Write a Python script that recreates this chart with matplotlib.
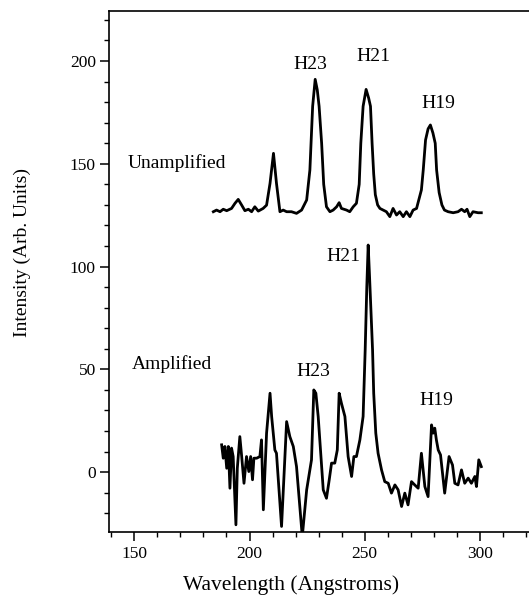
import matplotlib
matplotlib.use("Agg")
import matplotlib.pyplot as plt
from matplotlib.ticker import MultipleLocator

# spectra (wavelength in Angstroms, arb. intensity)
unamp_wl = [184.3, 185.7, 187.2, 188.6, 190.1, 192.2, 193.7, 195.1, 196.6, 198.0,
            199.5, 200.9, 202.3, 203.8, 205.9, 207.4, 208.9, 210.4, 211.7, 213.2,
            214.6, 216.1, 218.2, 220.4, 222.6, 224.8, 226.2, 227.4, 228.5, 229.4,
            230.2, 231.3, 232.2, 233.4, 234.9, 236.3, 237.8, 238.9, 239.9, 242.1,
            243.5, 245.0, 246.4, 247.6, 248.3, 249.3, 250.6, 251.7, 252.5, 253.2,
            253.9, 254.6, 255.6, 256.6, 258.0, 259.4, 260.9, 262.3, 263.8, 265.2,
            266.7, 268.1, 269.6, 271.0, 272.5, 274.6, 275.4, 276.4, 277.5, 278.5,
            279.6, 280.6, 281.2, 282.3, 283.5, 284.6, 286.2, 288.4, 290.5, 292.0,
            293.4, 294.4, 295.6, 297.0, 299.2, 300.6]
unamp_int = [126.7, 127.5, 126.7, 127.9, 127.2, 128.3, 130.8, 132.7, 129.9, 127.2,
             127.9, 126.7, 129.1, 127.0, 128.3, 129.9, 140.5, 155.1, 140.5, 126.7,
             127.5, 126.7, 126.7, 125.9, 127.5, 132.4, 147.0, 178.0, 191.1, 186.0,
             178.0, 160.0, 140.0, 129.1, 126.7, 127.5, 129.1, 131.1, 128.3, 127.5,
             126.7, 129.1, 130.8, 140.0, 160.0, 178.0, 186.2, 182.0, 178.0, 160.0,
             145.0, 135.0, 130.0, 128.3, 127.5, 126.7, 124.3, 128.3, 125.1, 126.7,
             124.3, 126.7, 124.3, 127.5, 128.3, 137.3, 147.0, 161.6, 167.0, 168.9,
             165.0, 160.0, 147.0, 136.0, 130.0, 127.5, 126.7, 126.2, 126.7, 127.9,
             126.7, 127.9, 124.3, 126.7, 126.2, 126.2]

amp_wl = [187.9, 188.6, 189.3, 190.1, 190.8, 191.5, 192.2, 192.9, 194.1, 194.7,
          195.8, 196.6, 197.6, 198.7, 199.7, 200.5, 201.3, 201.9, 203.1, 204.5,
          205.2, 206.0, 207.4, 208.9, 209.6, 211.0, 211.7, 213.9, 216.1, 217.5,
          219.0, 220.4, 222.9, 224.8, 226.9, 227.9, 228.8, 229.8, 232.0, 233.4,
          234.6, 235.6, 237.0, 238.1, 238.9, 239.9, 241.4, 242.8, 244.3, 245.3,
          246.4, 247.9, 249.3, 250.2, 250.9, 251.5, 252.1, 253.4, 253.9, 254.8,
          255.8, 257.3, 258.7, 260.2, 261.6, 263.1, 264.5, 266.0, 267.4, 268.8,
          270.3, 271.7, 273.2, 274.6, 276.1, 277.5, 279.0, 279.7, 280.4, 281.1,
          281.9, 282.9, 284.7, 286.6, 288.1, 289.1, 290.5, 292.0, 293.4, 294.9,
          296.3, 297.8, 298.5, 299.5, 300.6]
amp_int = [13.3, 6.8, 12.5, 1.9, 12.5, -7.8, 11.7, 7.6, -25.6, 1.9,
           17.3, 7.6, -5.4, 7.6, 0.3, 7.6, -3.7, 6.8, 6.8, 7.6,
           15.7, -18.3, 19.0, 38.4, 27.1, 10.8, 9.2, -26.4, 24.6, 17.3,
           12.5, 2.7, -31.3, -8.6, 6.0, 40.0, 38.4, 27.1, -8.6, -12.7,
           -3.7, 4.4, 4.4, 10.8, 38.4, 33.5, 27.1, 7.6, -2.1, 7.6,
           7.6, 15.7, 27.1, 59.5, 90.0, 110.5, 95.0, 59.5, 38.4, 19.0,
           9.2, 1.1, -4.6, -5.4, -10.2, -6.2, -8.6, -16.7, -10.2, -15.9,
           -4.6, -6.2, -7.8, 9.2, -7.0, -11.9, 23.0, 19.0, 21.4, 15.7,
           10.8, 8.4, -10.2, 7.6, 3.5, -5.4, -6.2, 1.1, -5.4, -2.9,
           -5.4, -2.1, -7.0, 6.0, 2.7]

labels = ["Unamplified", "H23", "H21", "H19", "Amplified", "H23", "H21", "H19"]
label_x = [147.3, 226.2, 253.7, 281.9, 148.8, 227.6, 240.7, 281.2]
label_y = [150.2, 198.5, 202.1, 179.4, 52.7, 48.9, 104.8, 34.8]

plt.rcParams["font.family"] = ["Liberation Serif", "DejaVu Serif"]

fig = plt.figure(figsize=(5.29, 6.05), dpi=100)
ax = fig.add_axes([0.206, 0.12, 0.794, 0.861])

ax.plot(unamp_wl, unamp_int, color="black", lw=2.0)
ax.plot(amp_wl, amp_int, color="black", lw=2.0)

for i, txt in enumerate(labels):
    ha = "left" if txt.endswith("plified") else "center"
    ax.text(label_x[i], label_y[i], txt, ha=ha, va="center", fontsize=14)

ax.set_xlim(139.0, 321.3)
ax.set_ylim(-29.3, 224.1)
ax.xaxis.set_major_locator(MultipleLocator(50))
ax.xaxis.set_minor_locator(MultipleLocator(10))
ax.yaxis.set_major_locator(MultipleLocator(50))
ax.yaxis.set_minor_locator(MultipleLocator(10))
ax.tick_params(which="major", direction="out", length=6.5, width=1.1, labelsize=12.5, pad=3)
ax.tick_params(which="minor", direction="out", length=3.5, width=1.0)
ax.spines["right"].set_visible(False)
for s in ["left", "bottom", "top"]:
    ax.spines[s].set_linewidth(1.2)

ax.set_xlabel("Wavelength (Angstroms)", fontsize=15.5)
ax.set_ylabel("Intensity (Arb. Units)", fontsize=14)
ax.xaxis.set_label_coords(0.433, -0.082)
ax.yaxis.set_label_coords(-0.185, 0.537)

fig.savefig("out.png", dpi=100)
